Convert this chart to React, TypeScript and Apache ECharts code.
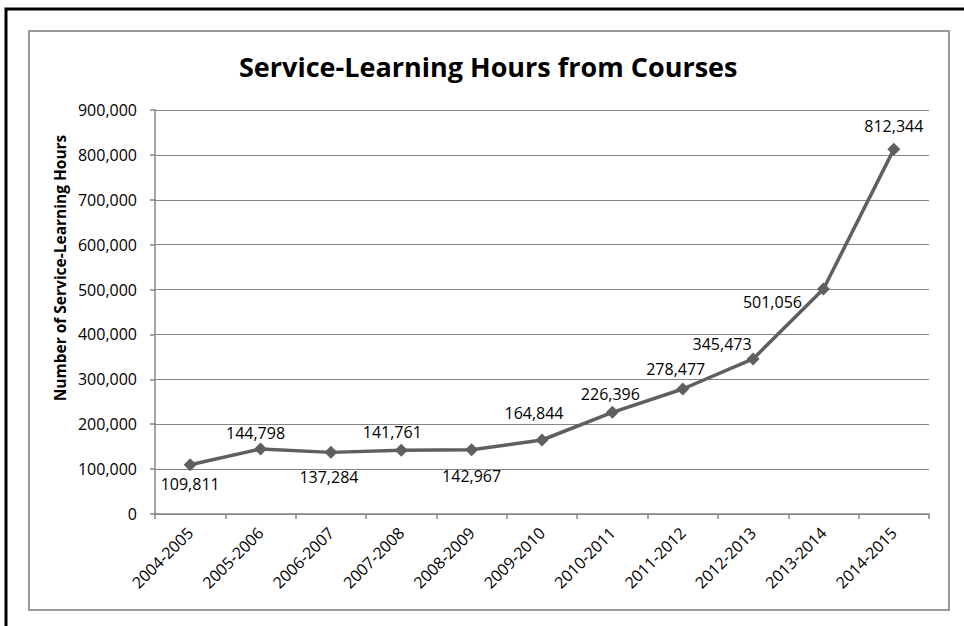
import React, { useEffect, useRef } from "react";
import * as echarts from "echarts";

const categories = [
  "2004-2005", "2005-2006", "2006-2007", "2007-2008", "2008-2009", "2009-2010",
  "2010-2011", "2011-2012", "2012-2013", "2013-2014", "2014-2015",
];
const hours = [109811, 144798, 137284, 141761, 142967, 164844, 226396, 278477, 345473, 501056, 812344];
const labelPositions = ["bottom", "top", "bottom", "top", "bottom", "top", "top", "top", "top", "left", "top"];
const labelOffsets: number[][] = [[0, 0], [-5, 3], [-2, 5], [-9, 1], [0, 7], [-8, -8], [-2, 1], [-7, 0], [-31, 5], [-10, 13], [0, -4]];

const title = "Service-Learning Hours from Courses";
const yAxisTitle = "Number of Service-Learning Hours";

const FONT = "'Open Sans', sans-serif";

export default function App() {
  const ref = useRef<HTMLDivElement>(null);
  useEffect(() => {
    if (!ref.current) return;
    const chart = echarts.init(ref.current, undefined, { renderer: "svg" });
    const fmt = (v: number) => v.toLocaleString("en-US");
    chart.setOption({
      animation: false,
      backgroundColor: "#ffffff",
      title: {
        text: title,
        left: 234,
        top: 48,
        textStyle: { fontFamily: FONT, fontWeight: "bold", fontSize: 27, color: "#000" },
      },
      graphic: [
        {
          type: "rect",
          shape: { x: 6, y: 9, width: 980, height: 640 },
          style: { fill: "none", stroke: "#000", lineWidth: 3 },
          silent: true,
        },
        {
          type: "rect",
          shape: { x: 29, y: 31, width: 920, height: 579 },
          style: { fill: "none", stroke: "#9a9a9a", lineWidth: 2 },
          silent: true,
        },
        {
          type: "text",
          x: 60,
          y: 268,
          rotation: Math.PI / 2,
          style: {
            text: yAxisTitle,
            fontFamily: FONT,
            fontWeight: "bold",
            fontSize: 15.5,
            fill: "#000",
            align: "center",
            verticalAlign: "middle",
          },
          silent: true,
        },
      ],
      grid: { left: 155, right: 35, top: 110, bottom: 112, containLabel: false },
      xAxis: {
        type: "category",
        data: categories,
        boundaryGap: true,
        axisLine: { lineStyle: { color: "#868686", width: 1.5 } },
        axisTick: { show: true, length: 5, lineStyle: { color: "#868686", width: 1.5 } },
        axisLabel: {
          rotate: 45,
          margin: 16,
          fontFamily: FONT,
          fontSize: 16,
          color: "#000",
          interval: 0,
        },
      },
      yAxis: {
        type: "value",
        min: 0,
        max: 900000,
        interval: 100000,
        axisLine: { show: true, lineStyle: { color: "#868686", width: 1.5 } },
        axisTick: { show: true, length: 5, lineStyle: { color: "#868686", width: 1.5 } },
        axisLabel: {
          formatter: (v: number) => fmt(v),
          fontFamily: FONT,
          fontSize: 16,
          color: "#000",
          margin: 18,
        },
        splitLine: { show: true, lineStyle: { color: "#868686", width: 1 } },
      },
      series: [
        {
          type: "line",
          data: hours.map((v, i) => ({
            value: v,
            label: {
              show: true,
              position: labelPositions[i],
              offset: labelOffsets[i],
              distance: 5,
              formatter: fmt(v),
              fontFamily: FONT,
              fontSize: 16,
              color: "#000",
            },
          })),
          symbol: "diamond",
          symbolSize: 13,
          lineStyle: { color: "#5f5f5f", width: 3.5 },
          itemStyle: { color: "#5f5f5f" },
        },
      ],
    });
    return () => chart.dispose();
  }, []);
  return (
    <div
      ref={ref}
      style={{ position: "fixed", left: 0, top: 0, width: 964, height: 626 }}
    />
  );
}
